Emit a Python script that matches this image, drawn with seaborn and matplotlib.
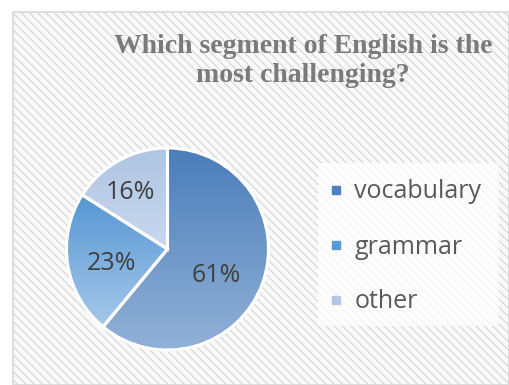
import numpy as np
import pandas as pd
import matplotlib
matplotlib.use("Agg")
import matplotlib.pyplot as plt
import seaborn as sns
from matplotlib.patches import Rectangle
from matplotlib.lines import Line2D
from matplotlib.colors import LinearSegmentedColormap

# ---- data ----
categories = ["vocabulary", "grammar", "other"]
shares = [61, 23, 16]
title_text = "Which segment of English is the\nmost challenging?"

# ---- style ----
sns.set_theme(style="white")
plt.rcParams["font.family"] = ["Open Sans", "DejaVu Sans"]
plt.rcParams["hatch.linewidth"] = 0.9

grad_top = ["#4a7dba", "#5797d4", "#afc5e3"]
grad_bot = ["#92b2d7", "#a6c8ea", "#c9d8ee"]
legend_cols = ["#4f81bd", "#5b9bd5", "#b4c7e7"]

W, H = 509, 385
fig = plt.figure(figsize=(W / 100, H / 100), dpi=100)
fig.patch.set_facecolor("white")

# background chart area with diagonal hatch
bg = fig.add_axes([0, 0, 1, 1])
bg.set_xlim(0, W)
bg.set_ylim(H, 0)
bg.axis("off")
bg.add_patch(Rectangle((13, 12), W - 13, H - 12, facecolor="#f9f9f9",
                       edgecolor="#d8d8d8", hatch="\\\\\\\\", linewidth=0, zorder=0))
bg.add_patch(Rectangle((13, 12), W - 13, H - 12, facecolor="none",
                       edgecolor="#d9d9d9", linewidth=1.2, zorder=1))
# legend box
bg.add_patch(Rectangle((318, 163), 181, 163, facecolor="white", alpha=0.75,
                       edgecolor="none", zorder=2))

fig.text(303 / W, 1 - 61 / H, title_text, ha="center", va="center",
         family="Liberation Serif", weight="bold", fontsize=20,
         color="#7a7a7a", linespacing=1.25)

# pie
cx, cy, r = 167.5, 249, 101
m = 1.03
ax = fig.add_axes([(cx - r * m) / W, (H - cy - r * m) / H, 2 * r * m / W, 2 * r * m / H])
df = pd.DataFrame({"category": categories, "share": shares})
wedges, texts, autotexts = ax.pie(
    df["share"], startangle=90, counterclock=False,
    colors=grad_top, autopct="%d%%", pctdistance=0.6,
    wedgeprops=dict(edgecolor="white", linewidth=2.2),
    textprops=dict(fontsize=18, color="#404040"))
ax.set_aspect("equal")
ax.axis("off")

# gradient fills clipped to each wedge
grad = np.linspace(0, 1, 256).reshape(-1, 1)
for w, c0, c1 in zip(wedges, grad_top, grad_bot):
    cmap = LinearSegmentedColormap.from_list("g", [c0, c1])
    verts = w.get_path().vertices
    x0, x1 = verts[:, 0].min(), verts[:, 0].max()
    y0, y1 = verts[:, 1].min(), verts[:, 1].max()
    im = ax.imshow(grad, cmap=cmap, extent=[x0, x1, y0, y1], origin="upper",
                   aspect="auto", zorder=1)
    im.set_clip_path(w)
    w.set_facecolor("none")
    w.set_zorder(2)
for t in autotexts:
    t.set_zorder(3)
# nudge labels to Excel-like positions
offsets = [(-0.08, -0.06), (0.04, -0.05), (-0.08, 0.03)]
for t, (dx, dy) in zip(autotexts, offsets):
    x, y = t.get_position()
    t.set_position((x + dx, y + dy))
ax.set_xlim(-m, m)
ax.set_ylim(-m, m)

# legend
handles = [Line2D([], [], marker="s", linestyle="none", markersize=6,
                  markerfacecolor=c, markeredgecolor=c) for c in legend_cols]
leg = fig.legend(handles, categories, loc="upper left",
                 bbox_to_anchor=(307 / W, 1 - 157 / H), frameon=False,
                 fontsize=18, labelcolor="#595959", handlelength=0.5,
                 handletextpad=0.5, labelspacing=1.2)

fig.savefig("out.png", dpi=100)
